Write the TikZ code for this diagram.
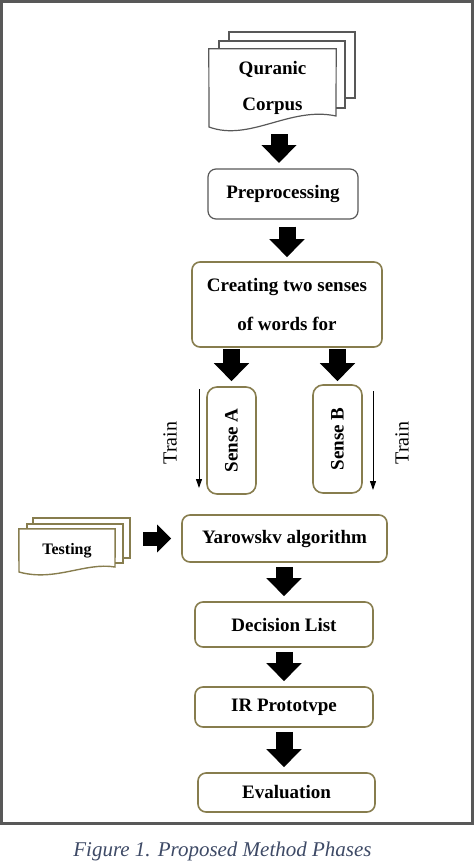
\documentclass[tikz,border=0pt]{standalone}
\usepackage{fontspec}
\setmainfont{Liberation Serif}
\usepackage{graphicx}
\usetikzlibrary{arrows.meta}
\definecolor{boxline}{RGB}{135,125,78}
\definecolor{docline}{RGB}{88,88,88}
\definecolor{captext}{RGB}{62,74,102}

\begin{document}
\begin{tikzpicture}[x=1pt, y=-1pt,
    phase/.style={draw=boxline, line width=1.6pt, rounded corners=8pt, inner sep=2pt,
      align=center, font=\bfseries\fontsize{19}{23}\selectfont},
    fat/.style={line width=17pt, -{Triangle[length=18pt,width=34pt]}},
    thin/.style={line width=1pt, -{Triangle[length=9pt,width=6pt]}}]
    \useasboundingbox (0,0) rectangle (474,865);
    \draw[line width=3pt, docline] (1.5,1.5) rectangle (472.5,823.5);

    % corpus document stack
    \node[inner sep=0pt, minimum width=127pt, minimum height=78pt, align=center,
      font=\bfseries\fontsize{19}{36}\selectfont] (corpus) at (272.5,88) {Quranic\\Corpus};
    \draw[docline, line width=1.2pt] (corpus.north west) -- (corpus.north east) -- (336,116)
        .. controls (290,106) and (250,142) .. (209,127) -- cycle;
    \draw[docline, line width=1.2pt] (219,49) -- (219,41) -- (345,41) -- (345,108) -- (336,108);
    \draw[docline, line width=1.2pt] (229,41) -- (229,32) -- (355,32) -- (355,98) -- (345,98);

    \node[phase, draw=docline, line width=1.2pt, minimum width=150pt, minimum height=50pt] (pre) at (283,194) {Preprocessing};
    \node[phase, minimum width=190pt, minimum height=85pt,
      font=\bfseries\fontsize{19}{39}\selectfont] (create) at (287,304.5) {Creating two senses\\of words for};
    \node[phase, rounded corners=10pt, minimum width=49pt, minimum height=107pt] (senseA) at (231.5,440.5) {\rotatebox{90}{Sense A}};
    \node[phase, rounded corners=10pt, minimum width=49pt, minimum height=108pt] (senseB) at (337.5,439) {\rotatebox{90}{Sense B}};

    % training direction
    \coordinate (trainA1) at (199,389);
    \coordinate (trainA2) at (199,488);
    \coordinate (trainB1) at (373,391);
    \coordinate (trainB2) at (373,490);
    \draw[thin] (trainA1) -- (trainA2);
    \draw[thin] (trainB1) -- (trainB2);
    \node[font=\fontsize{20}{24}\selectfont, rotate=90] (trainA) at (170,443) {Train};
    \node[font=\fontsize{20}{24}\selectfont, rotate=90] (trainB) at (402,443) {Train};

    % testing document stack
    \node[inner sep=0pt, minimum width=96pt, minimum height=43pt,
      font=\bfseries\fontsize{16}{20}\selectfont] (testing) at (67,550.5) {Testing};
    \draw[boxline, line width=1.4pt] (testing.north west) -- (testing.north east) -- (115,567)
        .. controls (85,562) and (55,582) .. (19,572) -- cycle;
    \draw[boxline, line width=1.4pt] (27,529) -- (27,524) -- (123,524) -- (123,563) -- (115,563);
    \draw[boxline, line width=1.4pt] (33,524) -- (33,518) -- (130,518) -- (130,558) -- (123,558);

    \node[phase, minimum width=205pt, minimum height=47pt] (yar) at (284.5,538.5) {Yarowskv algorithm};
    \node[phase, minimum width=178pt, minimum height=45pt] (dec) at (284,624.5) {Decision List};
    \node[phase, minimum width=178pt, minimum height=40pt] (proto) at (284,707) {IR Prototvpe};
    \node[phase, minimum width=177pt, minimum height=39pt] (eval) at (286.5,792.5) {Evaluation};

    % block arrows
    \draw[fat, shorten <=8pt, shorten >=3pt] (pre.north -| 279,0) ++(0,-42) -- (279,166);
    \draw[fat, shorten <=7pt, shorten >=4pt] (pre.south -| create.north) -- (create.north);
    \draw[fat, shorten <=1pt, shorten >=5pt] (senseA.north |- create.south) -- (senseA.north);
    \draw[fat, shorten <=1pt, shorten >=3pt] (senseB.north |- create.south) -- (senseB.north);
    \draw[line width=14pt, -{Triangle[length=14pt,width=27pt]}, shorten <=28pt, shorten >=10pt]
        (testing.east |- yar.west) -- (yar.west);
    \foreach \a/\b in {yar/dec, dec/proto, proto/eval} {
        \draw[fat, shorten <=4pt, shorten >=5pt] (\a.south -| dec.north) -- (\b.north -| dec.north);
    }

    \node[font=\itshape\fontsize{21}{25}\selectfont, text=captext] (caption) at (222.5,851) {Figure 1. Proposed Method Phases};
\end{tikzpicture}
\end{document}
